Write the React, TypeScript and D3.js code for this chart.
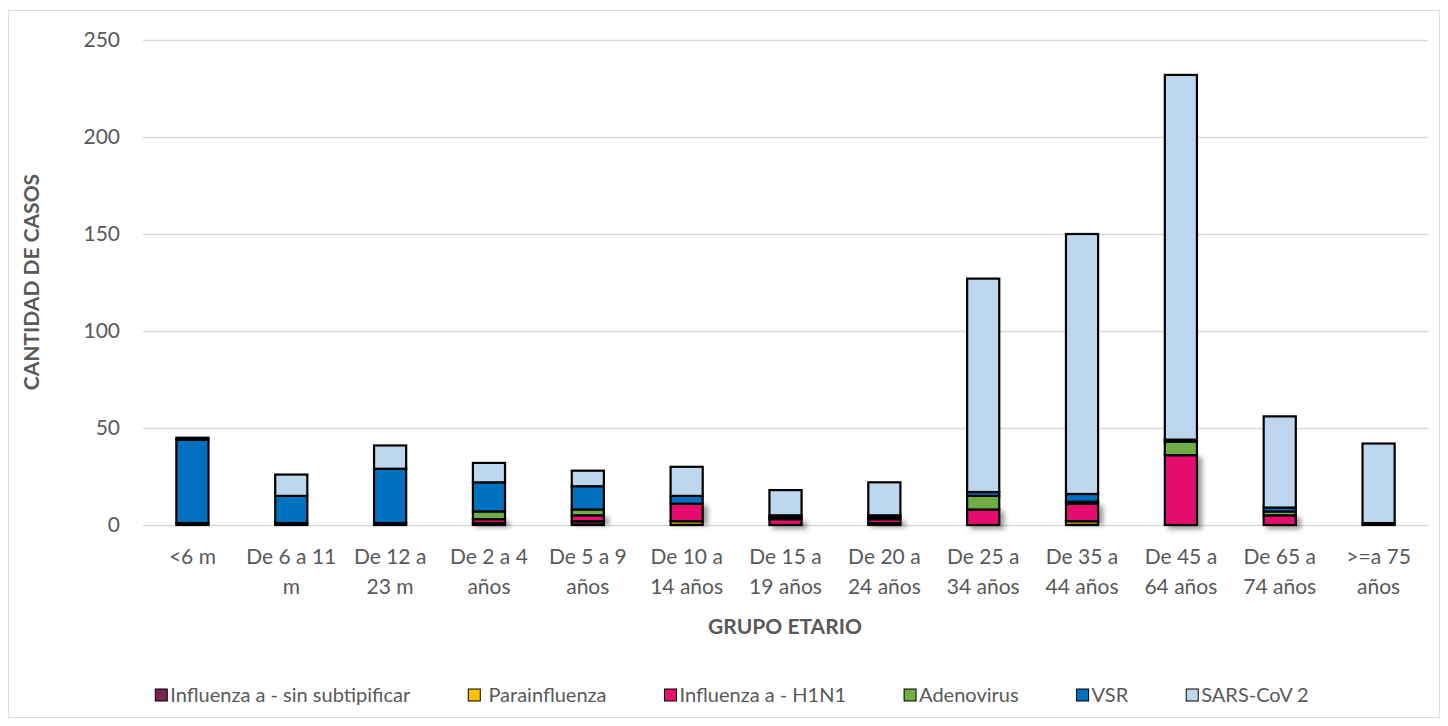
import React from "react";
import * as d3 from "d3";

const categories = [
  "<6 m", "De 6 a 11|m", "De 12 a|23 m", "De 2 a 4|años", "De 5 a 9|años",
  "De 10 a|14 años", "De 15 a|19 años", "De 20 a|24 años", "De 25 a|34 años",
  "De 35 a|44 años", "De 45 a|64 años", "De 65 a|74 años", ">=a 75|años",
];

const seriesNames = [
  "Influenza a - sin subtipificar", " Parainfluenza", "Influenza a - H1N1",
  "Adenovirus", "VSR", "SARS-CoV 2",
];
const seriesColors = ["#7A2350", "#FFC000", "#E6106E", "#70AD47", "#0070C0", "#BDD7EE"];

const sinSubtipificar = [1, 1, 1, 1, 2, 0, 0, 1, 0, 0, 0, 0, 1];
const parainfluenza = [0, 0, 0, 0, 0, 2, 0, 0, 0, 2, 0, 0, 0];
const h1n1 = [0, 0, 0, 2, 3, 9, 3, 2, 8, 9, 36, 5, 0];
const adenovirus = [0, 0, 0, 4, 3, 0, 1, 1, 7, 1, 7, 2, 0];
const vsr = [43, 14, 28, 15, 12, 4, 1, 1, 2, 4, 1, 2, 0];
const sarsCov2 = [1, 11, 12, 10, 8, 15, 13, 17, 110, 134, 188, 47, 41];

const yTicks = [0, 50, 100, 150, 200, 250];

const FONT = "Lato, 'Open Sans', sans-serif";
const TXT = "#595959";

export default function App() {
  const W = 1448, H = 726;
  const x = d3.scaleBand<string>().domain(categories).range([143, 1428]).paddingInner(0.675).paddingOuter(0.3375);
  const y = d3.scaleLinear().domain([0, 250]).range([525, 40]);

  const rows = categories.map((c, i) => ({
    cat: c,
    s0: sinSubtipificar[i], s1: parainfluenza[i], s2: h1n1[i],
    s3: adenovirus[i], s4: vsr[i], s5: sarsCov2[i],
  }));
  const keys = ["s0", "s1", "s2", "s3", "s4", "s5"];
  const stacked = d3.stack<any>().keys(keys)(rows);

  return (
    <svg width={W} height={H} style={{ display: "block", position: "absolute", left: 0, top: 0 }}>
      <defs>
        <filter id="sh" x="-30%" y="-30%" width="180%" height="180%">
          <feDropShadow dx="4" dy="3" stdDeviation="2.5" floodColor="#000" floodOpacity="0.4" />
        </filter>
      </defs>
      <rect x={0} y={0} width={W} height={H} fill="#fff" />
      <rect x={8.5} y={10.5} width={1431} height={707} fill="#fff" stroke="#d9d9d9" strokeWidth={1} />
      {yTicks.map((t) => (
        <g key={t}>
          <line x1={143} x2={1428} y1={y(t) + 0.5} y2={y(t) + 0.5} stroke="#d9d9d9" strokeWidth={1.5} />
          <text x={120} y={y(t)} dy="0.35em" textAnchor="end" fontFamily={FONT} fontSize={21} fill={TXT}>{t}</text>
        </g>
      ))}
      {stacked.map((layer, li) => (
        <g key={li} filter={li === 2 ? "url(#sh)" : undefined}>
          {layer.map((d, i) => {
            const v = d[1] - d[0];
            if (v <= 0) return null;
            return (
              <rect key={i} x={x(categories[i])!} width={x.bandwidth()}
                y={y(d[1])} height={y(d[0]) - y(d[1])}
                fill={seriesColors[li]} stroke="#000" strokeWidth={2.2} />
            );
          })}
        </g>
      ))}
      {categories.map((c) => {
        const lines = c.split("|");
        const cx = x(c)! + x.bandwidth() / 2;
        return (
          <text key={c} x={cx} y={564} textAnchor="middle" fontFamily={FONT} fontSize={21} fill={TXT}>
            {lines.map((l, k) => (
              <tspan key={k} x={cx} dy={k === 0 ? 0 : 30}>{l}</tspan>
            ))}
          </text>
        );
      })}
      <text x={785} y={634} textAnchor="middle" fontFamily={FONT} fontSize={21} fontWeight="bold" fill={TXT}>GRUPO ETARIO</text>
      <text transform="translate(39,282) rotate(-90)" textAnchor="middle" fontFamily={FONT} fontSize={21} fontWeight="bold" fill={TXT}>CANTIDAD DE CASOS</text>
      <Legend y0={695} font={20} sq={12} gap={58} />
    </svg>
  );
}

function Legend({ y0, font, sq, gap }: { y0: number; font: number; sq: number; gap: number }) {
  const ref = React.useRef<SVGGElement>(null);
  React.useLayoutEffect(() => {
    const g = ref.current;
    if (!g) return;
    const items = Array.from(g.querySelectorAll("g.item")) as SVGGElement[];
    const ws = items.map((it) => (it.querySelector("text") as SVGTextElement).getComputedTextLength() + sq + 3);
    const total = ws.reduce((a, b) => a + b, 0) + gap * (ws.length - 1);
    let cx = 732 - total / 2;
    items.forEach((it, i) => {
      it.setAttribute("transform", `translate(${cx},${y0})`);
      cx += ws[i] + gap;
    });
  }, []);
  return (
    <g ref={ref}>
      {seriesNames.map((n, i) => (
        <g className="item" key={n}>
          <rect x={0} y={-sq / 2} width={sq} height={sq} fill={seriesColors[i]} stroke="#000" strokeWidth={1} />
          <text x={sq + 3} y={0} dy="0.35em" fontFamily={FONT} fontSize={font} fill={TXT} style={{ whiteSpace: "pre" }}>{n}</text>
        </g>
      ))}
    </g>
  );
}
